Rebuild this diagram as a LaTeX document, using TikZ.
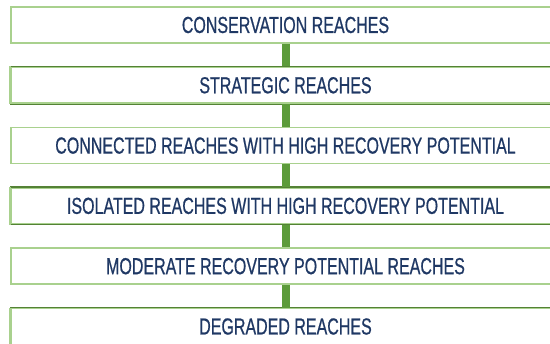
\documentclass[tikz,border=0pt]{standalone}
\usepackage{fontspec}
\newfontfamily\stagefont[FakeStretch=0.69,FakeBold=0.6]{Liberation Sans}
\definecolor{navy}{HTML}{1F3864}
\definecolor{lightg}{HTML}{A9D18E}
\definecolor{darkg}{HTML}{548235}
\definecolor{conng}{HTML}{5C9B3A}
\tikzset{
  stage/.style={rectangle, minimum width=549pt, minimum height=36pt,
    inner sep=0pt, draw=lightg, line width=1.8pt, text=navy,
    font=\stagefont\fontsize{23.2}{26}\selectfont},
  darkedge/.style={draw=darkg, line width=1.3pt},
  link/.style={draw=conng, line width=8pt}
}
\begin{document}
\begin{tikzpicture}[x=1pt,y=-1pt]
\clip (0,0) rectangle (550,344);
\fill[white] (0,0) rectangle (550,344);

% ranked stages, top to bottom
\node[stage] (s1) at (285.5,25.0)  {CONSERVATION REACHES};
\node[stage] (s2) at (285.5,85.3)  {STRATEGIC REACHES};
\node[stage] (s3) at (285.5,145.6) {CONNECTED REACHES WITH HIGH RECOVERY POTENTIAL};
\node[stage] (s4) at (285.5,205.9) {ISOLATED REACHES WITH HIGH RECOVERY POTENTIAL};
\node[stage] (s5) at (285.5,266.2) {MODERATE RECOVERY POTENTIAL REACHES};
\node[stage] (s6) at (285.5,326.5) {DEGRADED REACHES};

% darker top and bottom rules on alternate stages
\foreach \s in {s2,s4,s6}{
  \draw[darkedge] (\s.north west) -- (\s.north east);
  \draw[darkedge] (\s.south west) -- (\s.south east);
  \draw[draw=lightg, line width=1.8pt] (\s.north west) -- (\s.south west);
}

% connectors between consecutive stages
\draw[link] (s1.south) -- (s2.north);
\draw[link] (s2.south) -- (s3.north);
\draw[link] (s3.south) -- (s4.north);
\draw[link] (s4.south) -- (s5.north);
\draw[link] (s5.south) -- (s6.north);
\end{tikzpicture}
\end{document}
